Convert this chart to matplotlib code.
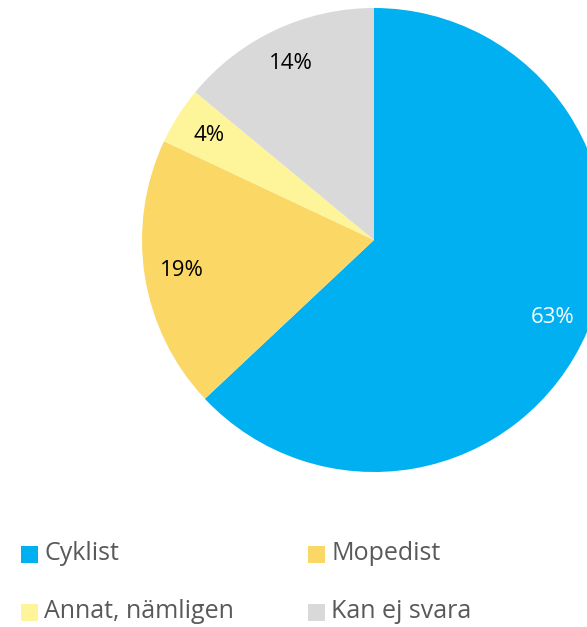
import matplotlib
matplotlib.use("Agg")
import matplotlib.pyplot as plt
from matplotlib.patches import Rectangle

# data
labels = ["Cyklist", "Mopedist", "Annat, nämligen", "Kan ej svara"]
shares = [63, 19, 4, 14]
colors = ["#00B0F0", "#FBD766", "#FEF59A", "#D9D9D9"]
label_colors = ["white", "black", "black", "black"]

W, H = 587, 627
fig = plt.figure(figsize=(W / 100, H / 100), dpi=100)
ax = fig.add_axes([0, 0, 1, 1])

# pie in pixel coords (y measured from bottom)
cx, cy, r = 374, H - 240, 232
wedges, texts, autotexts = ax.pie(
    shares, colors=colors, startangle=90, counterclock=False,
    center=(cx, cy), radius=r, autopct="%d%%", pctdistance=0.84,
    textprops=dict(fontsize=16, family="Open Sans"),
    wedgeprops=dict(linewidth=0),
)
for t, c in zip(autotexts, label_colors):
    t.set_color(c)

ax.set_xlim(0, W)
ax.set_ylim(0, H)
ax.set_aspect("equal")
ax.axis("off")

# legend, 2 columns laid out by hand
col_x = [21, 308]
row_y = [H - 554, H - 612]
for i, (lab, col) in enumerate(zip(labels, colors)):
    x = col_x[i % 2]
    y = row_y[i // 2]
    ax.add_patch(Rectangle((x, y - 9), 17, 17, facecolor=col, edgecolor="none", clip_on=False))
    ax.text(x + 23, y, lab, fontsize=18, family="Open Sans", color="#595959",
            va="center", ha="left")

fig.savefig("out.png", dpi=100)
